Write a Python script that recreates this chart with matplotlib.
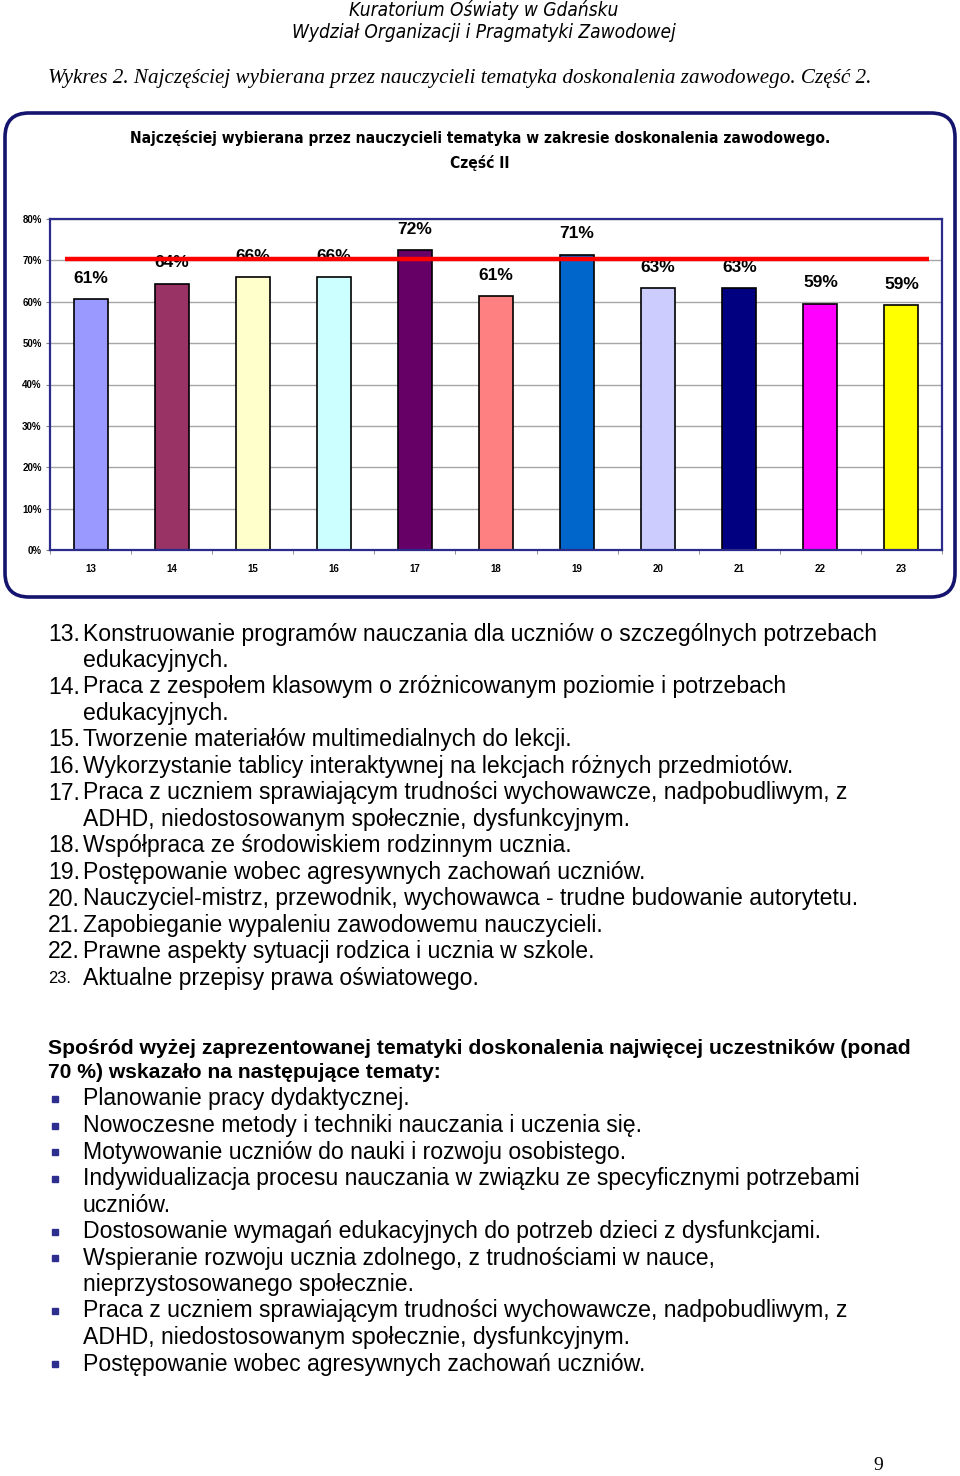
import matplotlib
matplotlib.use('Agg')
import matplotlib.pyplot as plt
from matplotlib import font_manager as fm
from matplotlib.patches import FancyBboxPatch, Rectangle
from matplotlib.transforms import IdentityTransform
import numpy as np

# ---------------- data ----------------
categories = ['13', '14', '15', '16', '17', '18', '19', '20', '21', '22', '23']
values = [60.6, 64.4, 65.9, 65.9, 72.5, 61.4, 71.4, 63.3, 63.3, 59.5, 59.1]
value_labels = ['61%', '64%', '66%', '66%', '72%', '61%', '71%', '63%', '63%', '59%', '59%']
bar_colors = ['#9999FF', '#993366', '#FFFFCC', '#CCFFFF', '#660066', '#FF8080',
              '#0066CC', '#CCCCFF', '#000080', '#FF00FF', '#FFFF00']
threshold = 70.4
yticks = [0, 10, 20, 30, 40, 50, 60, 70, 80]
ytick_labels = ['0%', '10%', '20%', '30%', '40%', '50%', '60%', '70%', '80%']

header_lines = ['Kuratorium Oświaty w Gdańsku', 'Wydział Organizacji i Pragmatyki Zawodowej']
figure_caption = 'Wykres 2. Najczęściej wybierana przez nauczycieli tematyka doskonalenia zawodowego. Część 2.'
chart_title = ['Najczęściej wybierana przez nauczycieli tematyka w zakresie doskonalenia zawodowego.',
               'Część II']

topic_numbers = ['13.', '14.', '15.', '16.', '17.', '18.', '19.', '20.', '21.', '22.', '23.']
topic_lines = [
    ['Konstruowanie programów nauczania dla uczniów o szczególnych potrzebach', 'edukacyjnych.'],
    ['Praca z zespołem klasowym o zróżnicowanym poziomie i potrzebach', 'edukacyjnych.'],
    ['Tworzenie materiałów multimedialnych do lekcji.'],
    ['Wykorzystanie tablicy interaktywnej na lekcjach różnych przedmiotów.'],
    ['Praca z uczniem sprawiającym trudności wychowawcze, nadpobudliwym, z',
     'ADHD, niedostosowanym społecznie, dysfunkcyjnym.'],
    ['Współpraca ze środowiskiem rodzinnym ucznia.'],
    ['Postępowanie wobec agresywnych zachowań uczniów.'],
    ['Nauczyciel-mistrz, przewodnik, wychowawca - trudne budowanie autorytetu.'],
    ['Zapobieganie wypaleniu zawodowemu nauczycieli.'],
    ['Prawne aspekty sytuacji rodzica i ucznia w szkole.'],
    ['Aktualne przepisy prawa oświatowego.'],
]
summary_lines = ['Spośród wyżej zaprezentowanej tematyki doskonalenia najwięcej uczestników (ponad',
                 '70 %) wskazało na następujące tematy:']
bullet_items = [
    ['Planowanie pracy dydaktycznej.'],
    ['Nowoczesne metody i techniki nauczania i uczenia się.'],
    ['Motywowanie uczniów do nauki i rozwoju osobistego.'],
    ['Indywidualizacja procesu nauczania w związku ze specyficznymi potrzebami', 'uczniów.'],
    ['Dostosowanie wymagań edukacyjnych do potrzeb dzieci z dysfunkcjami.'],
    ['Wspieranie rozwoju ucznia zdolnego, z trudnościami w nauce,',
     'nieprzystosowanego społecznie.'],
    ['Praca z uczniem sprawiającym trudności wychowawcze, nadpobudliwym, z',
     'ADHD, niedostosowanym społecznie, dysfunkcyjnym.'],
    ['Postępowanie wobec agresywnych zachowań uczniów.'],
]
page_number = '9'

# ---------------- fonts ----------------
SANS = ['Liberation Sans', 'DejaVu Sans']
SERIF = ['Liberation Serif', 'DejaVu Serif']


def narrow_font(bold, italic):
    """Look for an installed narrow / condensed sans font; None if absent."""
    prefs = ['liberation', 'dejavu', 'noto', 'roboto', 'open', 'lato', 'inter']
    cands = []
    for f in fm.fontManager.ttflist:
        key = (f.name + ' ' + f.fname).lower()
        if 'mono' in key or 'serif' in key and 'sans' not in key:
            continue
        is_narrow = ('narrow' in key or 'condensed' in key
                     or str(f.stretch) in ('condensed', 'semi-condensed', 'extra-condensed'))
        if not is_narrow or 'extra' in key or 'semicondensed' in key or 'semi' in key:
            continue
        w = f.weight if isinstance(f.weight, int) else (700 if 'bold' in str(f.weight) else 400)
        if (w >= 600) != bold:
            continue
        if (f.style in ('italic', 'oblique')) != italic:
            continue
        rank = next((i for i, p in enumerate(prefs) if p in key), len(prefs))
        cands.append((rank, abs(w - (700 if bold else 400)), f.fname))
    if not cands:
        return None
    cands.sort()
    return cands[0][2]


def narrow_kw(bold=False, italic=False):
    fname = narrow_font(bold, italic)
    if fname:
        return dict(fontproperties=fm.FontProperties(fname=fname))
    kw = dict(family=SANS)
    if bold:
        kw['weight'] = 'bold'
    if italic:
        kw['style'] = 'italic'
    return kw


# ---------------- layout ----------------
W, H = 960, 1476
fig = plt.figure(figsize=(W / 100, H / 100), dpi=100)
fig.patch.set_facecolor('white')
renderer = fig.canvas.get_renderer()


def fx(x):
    return x / W


def fy(y):
    return 1 - y / H


def put(x, y, s, size, target=None, ha='left', va='center', **kw):
    t = fig.text(fx(x), fy(y), s, ha=ha, va=va, **kw)
    t.set_fontsize(size)
    if target:
        w = t.get_window_extent(renderer).width
        t.set_fontsize(size * target / w)
    return t


# header
hk = narrow_kw(italic=True)
t = put(484, 10, header_lines[0], 12, target=269, ha='center', **hk)
put(484, 32, header_lines[1], t.get_fontsize(), ha='center', **hk)

# caption
put(48, 78, figure_caption, 14, target=824, family=SERIF, style='italic')

# rounded frame
frame = FancyBboxPatch((5, H - 597), 950, 484, boxstyle='round,pad=0,rounding_size=24',
                       transform=IdentityTransform(), fill=False, ec='#14146E', lw=2.6)
fig.add_artist(frame)

# chart title
tk = narrow_kw(bold=True)
t = put(480, 138, chart_title[0], 12, target=700, ha='center', **tk)
put(480, 163, chart_title[1], t.get_fontsize(), ha='center', **tk)

# chart axes
ax = fig.add_axes([50 / W, 1 - 550 / H, 892 / W, 331 / H])
x = np.arange(len(categories))
ax.bar(x, values, width=0.42, color=bar_colors, edgecolor='black', linewidth=1.2, zorder=2)
for xi, v, lab in zip(x, values, value_labels):
    ax.annotate(lab, (xi, v), xytext=(0, 15), textcoords='offset points', ha='center',
                va='center', fontsize=12.5, weight='bold', family=SANS, zorder=4)
ax.plot([-0.32, 10.34], [threshold, threshold], color='red', lw=3.2, zorder=5,
        solid_capstyle='butt')
ax.set_xlim(-0.5, 10.5)
ax.set_ylim(0, 80)
ax.set_yticks(yticks)
ax.set_yticklabels(ytick_labels, fontsize=7, family=SANS, weight='bold')
ax.set_xticks(x)
ax.set_xticklabels(categories, fontsize=7, family=SANS, weight='bold')
ax.set_xticks(np.arange(-0.5, 11, 1), minor=True)
ax.tick_params(axis='x', which='major', length=0, pad=10)
ax.tick_params(axis='x', which='minor', length=3, color='#808080', direction='out')
ax.tick_params(axis='y', length=3, color='#808080', pad=3)
ax.yaxis.grid(True, color='#A6A6A6', lw=1.0)
ax.set_axisbelow(True)
for sp in ax.spines.values():
    sp.set_color('#2B2B8C')
    sp.set_linewidth(1.6)

# numbered topics list
ref = put(83, 634, topic_lines[0][0], 16, target=796, family=SANS)
lsize = ref.get_fontsize()
ref.remove()
y = 634
step = 26.5
for num, lines in zip(topic_numbers, topic_lines):
    nsize = lsize * 0.72 if num == '23.' else lsize
    put(48, y, num, nsize, family=SANS)
    for ln in lines:
        put(83, y, ln, lsize, family=SANS)
        y += step

# summary (bold)
t = put(48, 1048, summary_lines[0], 16, target=862, family=SANS, weight='bold')
put(48, 1072, summary_lines[1], t.get_fontsize(), family=SANS, weight='bold')

# bullet list
y = 1099
for lines in bullet_items:
    fig.add_artist(Rectangle((52, H - y - 3), 6, 6, transform=IdentityTransform(),
                             color='#2E2E8F'))
    for ln in lines:
        put(83, y, ln, lsize, family=SANS)
        y += step

# page number
put(878, 1466, page_number, 14, ha='center', family=SERIF)

fig.savefig('out.png', dpi=100)
